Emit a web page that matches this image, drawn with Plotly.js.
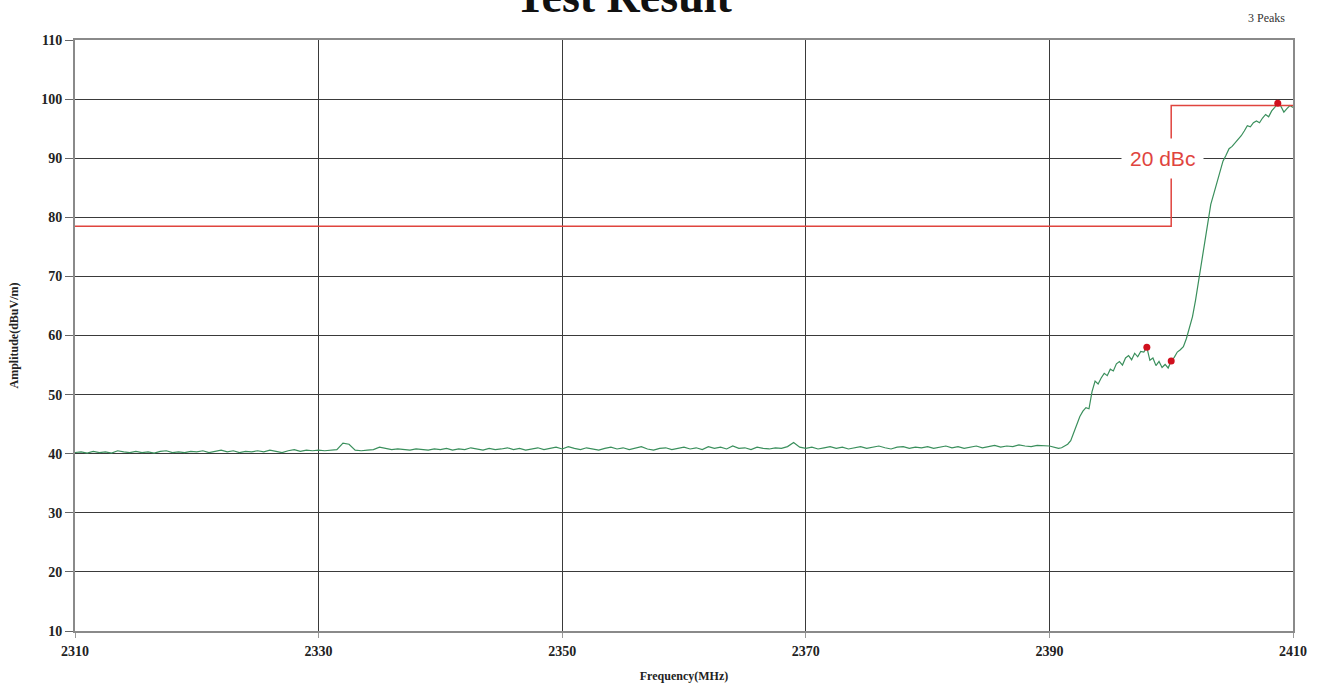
<!DOCTYPE html>
<html>
<head>
<meta charset="utf-8">
<script src="https://cdn.plot.ly/plotly-3.0.1.min.js"></script>
<style>html,body{margin:0;padding:0;background:#fff;}#chart{width:1321px;height:684px;}</style>
</head>
<body>
<div id="chart"></div>
<script>
// Flat section: 2310 .. 2390 MHz, every 0.5 MHz
const flatStart = 2310;
const flatStep = 0.5;
const flatAmp = [
  40.2,40.3,40.1,40.4,40.2,40.3,40.1,40.5,40.3,40.2,
  40.4,40.2,40.3,40.1,40.4,40.5,40.2,40.3,40.2,40.4,
  40.3,40.5,40.2,40.4,40.6,40.3,40.5,40.2,40.4,40.3,
  40.5,40.3,40.6,40.4,40.2,40.5,40.7,40.4,40.6,40.5,
  40.6,40.5,40.6,40.7,41.8,41.6,40.6,40.5,40.6,40.7,
  41.1,40.9,40.7,40.8,40.7,40.6,40.8,40.7,40.6,40.8,
  40.7,40.9,40.6,40.8,40.7,41.0,40.8,40.6,40.9,40.7,
  40.8,41.0,40.7,40.9,40.6,40.8,41.0,40.7,40.9,41.1,
  40.8,41.2,40.9,40.7,41.0,40.8,40.6,40.9,41.1,40.8,
  41.0,40.7,40.9,41.2,40.8,40.6,40.9,41.0,40.7,40.9,
  41.1,40.8,41.0,40.7,41.2,40.9,41.1,40.8,41.3,40.9,
  41.0,40.7,41.1,40.9,40.8,41.0,40.9,41.2,41.9,41.1,
  40.9,41.1,40.8,41.0,41.2,40.9,41.1,40.8,41.0,41.2,
  40.9,41.1,41.3,41.0,40.8,41.1,41.2,40.9,41.1,41.0,
  41.2,40.9,41.1,41.3,41.0,41.2,40.9,41.1,41.3,41.0,
  41.2,41.4,41.1,41.3,41.2,41.5,41.3,41.2,41.4,41.3,
  41.3
];
// Rising section: 2390 .. 2410 MHz, every 0.25 MHz
const riseStart = 2390;
const riseStep = 0.25;
const riseAmp = [
  41.3,
  41.2,41.0,40.9,
  41.0,41.3,41.6,42.2,
  43.5,45.0,46.3,47.2,
  47.8,47.6,50.5,52.3,
  51.8,52.8,53.6,53.2,
  54.3,54.0,55.2,55.6,
  55.0,56.2,56.6,55.9,
  57.0,56.4,57.3,57.2,
  58.0,55.8,56.2,54.9,
  55.6,54.6,55.1,54.5,
  55.7,56.3,57.2,57.6,
  58.1,59.5,61.2,63.2,
  66.0,69.2,72.0,75.5,
  79.0,82.2,84.0,86.0,
  87.8,89.5,90.5,91.6,
  92.0,92.6,93.3,93.8,
  94.6,95.5,95.3,96.0,
  96.3,96.0,96.8,97.4,
  97.0,98.0,98.6,99.3,
  98.8,97.8,98.4,98.9,
  98.6
];
const peakFreq = [2398.0, 2400.0, 2408.75];
const peakAmp = [58.0, 55.7, 99.3];
const limitFreq = [2310, 2400, 2400, 2410];
const limitAmp = [78.5, 78.5, 98.9, 98.9];
const xTicks = [2310, 2330, 2350, 2370, 2390, 2410];
const yTicks = [10, 20, 30, 40, 50, 60, 70, 80, 90, 100, 110];

const green = '#3a8f5c';
const red = '#e0443e';
const serif = 'Liberation Serif, Times New Roman, serif';

const traces = [
  {x0: flatStart, dx: flatStep, y: flatAmp, type: 'scatter', mode: 'lines', line: {color: green, width: 1.2}, hoverinfo: 'skip'},
  {x0: riseStart, dx: riseStep, y: riseAmp, type: 'scatter', mode: 'lines', line: {color: green, width: 1.2}, hoverinfo: 'skip'},
  {x: limitFreq, y: limitAmp, type: 'scatter', mode: 'lines', line: {color: red, width: 1.5}, hoverinfo: 'skip'},
  {x: peakFreq, y: peakAmp, type: 'scatter', mode: 'markers', marker: {color: '#d0101e', size: 7}, hoverinfo: 'skip'}
];

const layout = {
  width: 1321, height: 684,
  margin: {l: 75, r: 28, t: 40, b: 53},
  paper_bgcolor: '#fff', plot_bgcolor: '#fff',
  showlegend: false,
  xaxis: {
    range: [2310, 2410], tickvals: xTicks, ticktext: xTicks.map(String),
    showgrid: true, gridcolor: '#3a3a3a', gridwidth: 1, zeroline: false,
    showline: true, linecolor: '#8a8a8a', linewidth: 2, mirror: true,
    ticks: 'outside', ticklen: 5, tickcolor: '#999',
    tickfont: {family: serif, size: 14, color: '#222', weight: 'bold'},
    ticklabelstandoff: 1,
    title: {text: 'Frequency(MHz)', font: {family: serif, size: 12, color: '#222', weight: 'bold'}, standoff: 14}
  },
  yaxis: {
    range: [10, 110], tickvals: yTicks, ticktext: yTicks.map(String),
    showgrid: true, gridcolor: '#3a3a3a', gridwidth: 1, zeroline: false,
    showline: true, linecolor: '#8a8a8a', linewidth: 2, mirror: true,
    ticks: 'outside', ticklen: 8, tickcolor: '#666',
    tickfont: {family: serif, size: 14, color: '#222', weight: 'bold'},
    title: {text: 'Amplitude(dBuV/m)', font: {family: serif, size: 12, color: '#222', weight: 'bold'}, standoff: 20}
  },
  annotations: [
    {text: 'Test Result', xref: 'paper', yref: 'paper', x: 0.45, y: 1.074, xanchor: 'center', yanchor: 'middle', showarrow: false,
     font: {family: serif, size: 46, color: '#111', weight: 'bold'}},
    {text: '3 Peaks', xref: 'paper', yref: 'paper', x: 0.995, y: 1.037, xanchor: 'right', yanchor: 'middle', showarrow: false,
     font: {family: serif, size: 12, color: '#333'}},
    {text: '20 dBc', xref: 'x', yref: 'y', x: 2399.3, y: 90, xanchor: 'center', yanchor: 'middle', showarrow: false,
     bgcolor: '#fff', borderpad: 8, font: {family: 'Liberation Sans, Arial, sans-serif', size: 21, color: red}}
  ]
};

Plotly.newPlot('chart', traces, layout, {staticPlot: true, displayModeBar: false});
</script>
</body>
</html>
